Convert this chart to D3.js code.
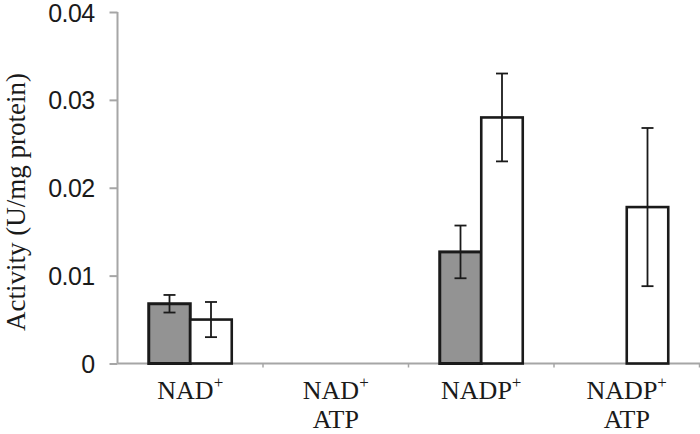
<!DOCTYPE html>
<html><head><meta charset="utf-8">
<script src="https://cdn.jsdelivr.net/npm/d3@7"></script>
<style>body{margin:0;background:#fff}svg{display:block}</style>
</head><body>
<svg id="c" width="700" height="434"></svg>
<script>
const categories = [["NAD", "+", ""], ["NAD", "+", "ATP"], ["NADP", "+", ""], ["NADP", "+", "ATP"]];
const catKeys = ["NAD+", "NAD+ ATP", "NADP+", "NADP+ ATP"];
const seriesNames = ["grey", "white"];
const greyValues = [0.0068, 0, 0.0127, 0];
const greyErrors = [0.001, 0, 0.003, 0];
const whiteValues = [0.0050, 0, 0.0280, 0.0178];
const whiteErrors = [0.002, 0, 0.005, 0.009];
const yTicks = [0, 0.01, 0.02, 0.03, 0.04];
const yTickLabels = ["0", "0.01", "0.02", "0.03", "0.04"];

const serif = "'Liberation Serif', 'Times New Roman', serif";
const sans = "'Liberation Sans', Arial, sans-serif";
const svg = d3.select("#c");
const x0 = 117.5, x1 = 699.5, yTop = 12, yBot = 363.5;
const x = d3.scaleBand().domain(catKeys).range([x0, x1]);
const y = d3.scaleLinear().domain([0, 0.04]).range([yBot, yTop]);
const barW = 41.5;
const xs = d3.scaleBand().domain(seriesNames).range([0, barW * 2]);

const fills = {grey: "#939393", white: "#ffffff"};
const series = [
  {name: "grey", vals: greyValues, errs: greyErrors, sw: 3},
  {name: "white", vals: whiteValues, errs: whiteErrors, sw: 2.6}
];

// axes
const axisColor = "#a6a6a6";
const yAxis = svg.append("g").attr("transform", `translate(${x0},0)`)
  .call(d3.axisLeft(y).tickValues(yTicks).tickFormat((d, i) => yTickLabels[i]).tickSize(8).tickPadding(15));
yAxis.select(".domain").attr("stroke", axisColor).attr("stroke-width", 2).attr("d", `M0,${yTop}V${yBot}`);
yAxis.selectAll(".tick line").attr("stroke", axisColor).attr("stroke-width", 2);
yAxis.selectAll(".tick text").attr("font-family", sans)
  .attr("font-size", 25).attr("fill", "#1a1a1a").attr("letter-spacing", -0.6).attr("dy", "0.36em");

const xAxisG = svg.append("g").attr("transform", `translate(0,${yBot})`);
xAxisG.append("line").attr("x1", x0).attr("x2", 700).attr("y1", 0).attr("y2", 0)
  .attr("stroke", axisColor).attr("stroke-width", 2);
xAxisG.selectAll("line.tk").data(catKeys).enter().append("line").attr("class", "tk")
  .attr("x1", d => x(d) + x.bandwidth()).attr("x2", d => x(d) + x.bandwidth())
  .attr("y1", 0).attr("y2", 4).attr("stroke", axisColor).attr("stroke-width", 1.5);

// bars
series.forEach(s => {
  const g = svg.append("g");
  catKeys.forEach((c, i) => {
    if (s.vals[i] <= 0) return;
    const cx = x(c) + x.bandwidth() / 2 - barW + xs(s.name);
    g.append("rect")
      .attr("x", cx).attr("y", y(s.vals[i]))
      .attr("width", xs.bandwidth()).attr("height", y(0) - y(s.vals[i]))
      .attr("fill", fills[s.name]).attr("stroke", "#1a1a1a").attr("stroke-width", s.sw);
  });
});
// error bars
series.forEach(s => {
  const g = svg.append("g").attr("stroke", "#1a1a1a").attr("stroke-width", 1.8);
  catKeys.forEach((c, i) => {
    if (s.vals[i] <= 0 || s.errs[i] <= 0) return;
    const mx = x(c) + x.bandwidth() / 2 - barW + xs(s.name) + xs.bandwidth() / 2;
    const hi = y(s.vals[i] + s.errs[i]), lo = y(s.vals[i] - s.errs[i]);
    g.append("line").attr("x1", mx).attr("x2", mx).attr("y1", hi).attr("y2", lo);
    g.append("line").attr("x1", mx - 6).attr("x2", mx + 6).attr("y1", hi).attr("y2", hi);
    g.append("line").attr("x1", mx - 6).attr("x2", mx + 6).attr("y1", lo).attr("y2", lo);
  });
});

// category labels
const lab = svg.append("g").attr("font-family", serif)
  .attr("font-size", 26).attr("fill", "#1a1a1a");
categories.forEach((c, i) => {
  const cx = x(catKeys[i]) + x.bandwidth() / 2;
  const t = lab.append("text").attr("x", cx).attr("y", 399).attr("text-anchor", "middle");
  t.append("tspan").text(c[0]);
  t.append("tspan").attr("font-size", 17).attr("dy", -11).text(c[1]);
  if (c[2]) lab.append("text").attr("x", cx).attr("y", 428).attr("text-anchor", "middle").text(c[2]);
});

// y title
svg.append("text").attr("transform", `translate(25,202) rotate(-90)`)
  .attr("text-anchor", "middle").attr("font-family", serif)
  .attr("font-size", 27).attr("fill", "#1a1a1a").text("Activity (U/mg protein)");
</script>
</body></html>
